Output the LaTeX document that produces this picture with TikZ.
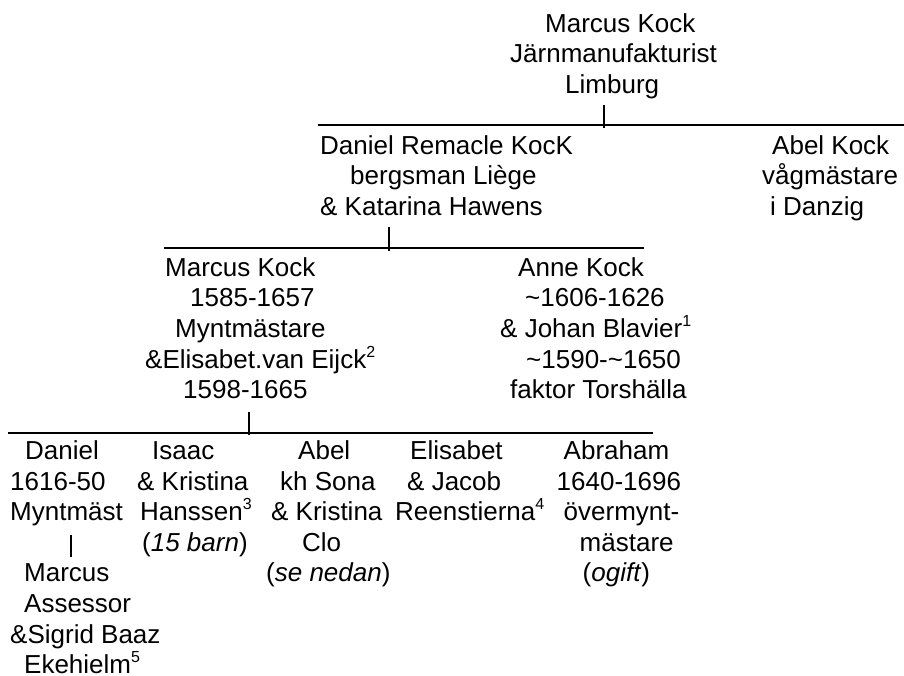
\documentclass[tikz,border=0pt]{standalone}
\usepackage{fontspec}
\setmainfont{Liberation Sans}
\newcommand{\lpad}[1]{\hspace*{#1pt}}
\newcommand{\fnote}[1]{\raisebox{11pt}{\fontsize{16}{16}\selectfont #1}}

\begin{document}
\begin{tikzpicture}[x=1pt, y=-1pt, line join=round,
    person/.style={anchor=base west, inner sep=0pt, align=left, font=\fontsize{26}{30.55}\selectfont},
    tie/.style={line width=2pt}]
  \useasboundingbox (0,0) rectangle (904,675);
  % first generation (nodes sit on the baseline of their last line)
  \node[person] (marcusI) at (510,93.1) {\lpad{35}Marcus Kock\\ Järnmanufakturist\\ \lpad{55}Limburg};
  \coordinate (bar1w) at (318,125);
  \coordinate (bar1e) at (904,125);
  \coordinate (drop1) at (604,105);
  \coordinate (knot1) at (604,128);
  \draw[tie] (bar1w) -- (bar1e);
  \draw[tie] (drop1) -- (knot1);
  % second generation
  \node[person] (danielR) at (320,215.3) {Daniel Remacle KocK\\ \lpad{30}bergsman Liège\\ \& Katarina Hawens};
  \node[person] (abelK) at (762,215.3) {\lpad{10}Abel Kock\\ vågmästare\\ \lpad{8}i Danzig};
  \coordinate (bar2w) at (164,248.3);
  \coordinate (bar2e) at (643.5,248.3);
  \coordinate (drop2) at (389.3,227);
  \coordinate (knot2) at (389.3,250.5);
  \draw[tie] (bar2w) -- (bar2e);
  \draw[tie] (drop2) -- (knot2);
  % third generation
  \node[person] (marcusM) at (145,398.6) {\lpad{20}Marcus Kock\\ \lpad{45}1585-1657\\ \lpad{30}Myntmästare\\ \&Elisabet.van Eijck\fnote{2}\\ \lpad{38}1598-1665};
  \node[person] (anne) at (500,398.6) {\lpad{18}Anne Kock\\ \lpad{25}\textasciitilde1606-1626\\ \& Johan Blavier\fnote{1}\\ \lpad{26}\textasciitilde1590-\textasciitilde1650\\ \lpad{10}faktor Torshälla};
  \coordinate (bar3w) at (8.3,432.7);
  \coordinate (bar3e) at (653,432.7);
  \coordinate (drop3) at (249.3,412);
  \coordinate (knot3) at (249.3,435);
  \draw[tie] (bar3w) -- (bar3e);
  \draw[tie] (drop3) -- (knot3);
  % fourth generation
  \node[person] (daniel) at (10,520.8) {\lpad{15}Daniel\\ 1616-50\\ Myntmäst};
  \node[person] (isaac) at (137,551.35) {\lpad{15}Isaac\\ \& Kristina\\ \lpad{3}Hanssen\fnote{3}\\ \lpad{5}(\textit{15 barn})};
  \node[person] (abel) at (266,581.9) {\lpad{32}Abel\\ \lpad{14}kh Sona\\ \lpad{5}\& Kristina\\ \lpad{36}Clo\\ (\textit{se nedan})};
  \node[person] (elisabet) at (395,520.8) {\lpad{15}Elisabet\\ \lpad{12}\& Jacob\\ Reenstierna\fnote{4}};
  \node[person] (abraham) at (556.5,581.9) {\lpad{7}Abraham\\ 1640-1696\\ \lpad{7}övermynt-\\ \lpad{23}mästare\\ \lpad{26}(\textit{ogift})};
  \coordinate (dtop) at (70.5,535);
  \coordinate (dbot) at (70.5,557);
  \draw[tie] (dtop) -- (dbot);
  \node[person] (marcusA) at (10,673.55) {\lpad{14}Marcus\\ \lpad{14}Assessor\\ \&Sigrid Baaz\\ \lpad{14}Ekehielm\fnote{5}};
\end{tikzpicture}
\end{document}
